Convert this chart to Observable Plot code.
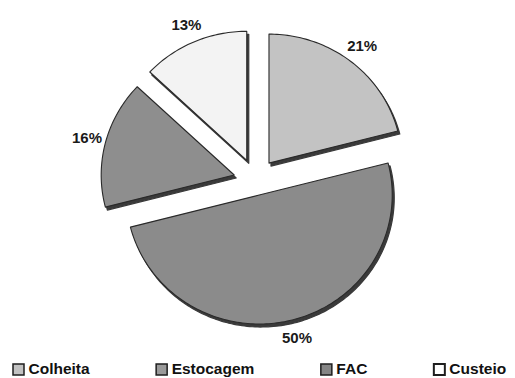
<!DOCTYPE html>
<html>
<head>
<meta charset="utf-8">
<script src="https://cdn.jsdelivr.net/npm/d3@7"></script>
<script src="https://cdn.jsdelivr.net/npm/@observablehq/plot@0.6"></script>
<style>
  html, body { margin: 0; padding: 0; background: #fff; }
  #chart svg { display: block; }
</style>
</head>
<body>
<div id="chart"></div>
<script>
// Shares of the credit lines (%), in the order they are drawn clockwise from 12 o'clock
const categories = ["Colheita", "Estocagem", "FAC", "Custeio"];
const shares = [21, 50, 16, 13];

// Slice fills, lightest to darkest as printed
const fills = ["#c3c3c3", "#8b8b8b", "#8e8e8e", "#f3f3f3"];
const swatchFills = ["#c2c2c2", "#9a9a9a", "#858585", "#ffffff"];

const W = 515, H = 378;
const cx = 255, cy = 180;   // pie centre
const rx = 133, ry = 129;   // pie radii
const explode = [22, 15, 22, 22];
const labelRadius = 152;

// Slice outlines built from d3.pie angles (0 = 12 o'clock, clockwise)
const arcs = d3.pie().sort(null)(shares);
const slices = [];
const labelRows = [];
arcs.forEach((a, i) => {
  const mid = (a.startAngle + a.endAngle) / 2;
  const ox = cx + explode[i] * Math.sin(mid);
  const oy = cy - explode[i] * Math.cos(mid);
  slices.push({cat: categories[i], x: ox, y: oy});
  const n = Math.max(2, Math.ceil((a.endAngle - a.startAngle) / 0.02));
  for (let k = 0; k <= n; k++) {
    const t = a.startAngle + (a.endAngle - a.startAngle) * k / n;
    slices.push({cat: categories[i], x: ox + rx * Math.sin(t), y: oy - ry * Math.cos(t)});
  }
  labelRows.push({
    text: shares[i] + "%",
    x: ox + labelRadius * Math.sin(mid),
    y: oy - labelRadius * Math.cos(mid) * (ry / rx)
  });
});

// Legend layout: square, label, then a fixed gap to the next entry
const legendFont = 15.5;
const ctx = document.createElement("canvas").getContext("2d");
ctx.font = `bold ${legendFont}px 'Liberation Sans', Arial, sans-serif`;
const legendRows = [];
let lx = 13;
categories.forEach((c, i) => {
  const w = ctx.measureText(c).width;
  legendRows.push({cat: c, i, x1: lx, x2: lx + 11, tx: lx + 15, y1: 364, y2: 375});
  lx += 15 + w + 67;
});

const colorScale = {domain: categories, range: fills};

const chart = Plot.plot({
  width: W,
  height: H,
  margin: 0,
  x: {domain: [0, W], axis: null},
  y: {domain: [0, H], reverse: true, axis: null},
  color: colorScale,
  style: {background: "#fff", fontFamily: "'Liberation Sans', Arial, sans-serif"},
  marks: [
    // side/thickness of each slice
    Plot.line(slices, {
      x: d => d.x + 2, y: d => d.y + 3, z: "cat",
      curve: "linear-closed", fill: "#3a3a3a", stroke: "#3a3a3a", strokeWidth: 1.2
    }),
    // slice faces
    Plot.line(slices, {
      x: "x", y: "y", z: "cat",
      curve: "linear-closed", fill: "cat", stroke: "#2a2a2a", strokeWidth: 1.1
    }),
    // value labels
    Plot.text(labelRows, {
      x: "x", y: "y", text: "text",
      fontSize: 15, fontWeight: "bold", fill: "#1a1a1a"
    }),
    // legend swatches
    Plot.rect(legendRows, {
      x1: "x1", x2: "x2", y1: "y1", y2: "y2",
      fill: d => swatchFills[d.i], stroke: "#1e1e1e",
      strokeWidth: d => d.i === 3 ? 2 : 1.5
    }),
    // legend labels
    Plot.text(legendRows, {
      x: "tx", y: 369, text: "cat", textAnchor: "start",
      fontSize: legendFont, fontWeight: "bold", fill: "#111"
    })
  ]
});

document.getElementById("chart").append(chart);
</script>
</body>
</html>
